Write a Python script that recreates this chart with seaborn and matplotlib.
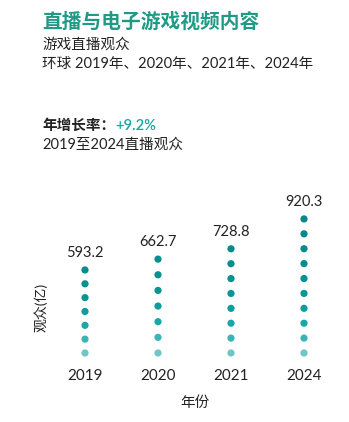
import numpy as np
import pandas as pd
import matplotlib
matplotlib.use("Agg")
import matplotlib.pyplot as plt
import seaborn as sns

# ---- data ----
years = ["2019", "2020", "2021", "2024"]
viewers = [593.2, 662.7, 728.8, 920.3]   # 亿
dot_counts = [7, 7, 8, 10]

title = "直播与电子游戏视频内容"
subtitle1 = "游戏直播观众"
subtitle2 = "环球 2019年、2020年、2021年、2024年"
growth_label = "年增长率："
growth_value = "+9.2%"
growth_caption = "2019至2024直播观众"
x_label = "年份"
y_label = "观众(亿)"

sns.set_theme(style="white")
plt.rcParams["font.family"] = ["Lato", "Noto Sans CJK SC", "DejaVu Sans"]

# build long table of dots
base = 61.0
rows = []
for yr, v, n in zip(years, viewers, dot_counts):
    ys = np.linspace(base, v, n)
    for i, yv in enumerate(ys):
        rows.append({"year": yr, "y": yv, "row": i})
df = pd.DataFrame(rows)

row_colors = ["#6FC6C6", "#3DB4B4", "#1AA7A7", "#0C9E9E", "#069696",
              "#039191", "#018E8E", "#008B8C", "#00898A", "#008789"]
palette = {i: row_colors[i] for i in range(max(dot_counts))}

W, H = 349, 422
fig = plt.figure(figsize=(W / 100, H / 100), dpi=100)
fig.patch.set_facecolor("white")

ax_left, ax_right = 48.5, 340.5
ax_bottom, ax_top = 362.5, 190.0
ax = fig.add_axes([ax_left / W, 1 - ax_bottom / H,
                   (ax_right - ax_left) / W, (ax_bottom - ax_top) / H])

sns.scatterplot(data=df, x="year", y="y", hue="row", palette=palette,
                s=27, linewidth=0, legend=False, ax=ax)

ax.set_xlim(-0.5, 3.5)
ax.set_ylim(0, (ax_bottom - ax_top) / 0.156)
for i, v in enumerate(viewers):
    ax.annotate(f"{v:.1f}", (i, v), xytext=(0, 12.3), textcoords="offset points",
                ha="center", va="center", fontsize=10.5, color="#222222")

for s in ax.spines.values():
    s.set_visible(False)
ax.set_yticks([])
ax.tick_params(axis="x", length=0, pad=5, labelsize=11, labelcolor="#222222")
ax.set_xlabel(x_label, fontsize=10.5, color="#222222", labelpad=9)
ax.set_ylabel("")
ax.set_facecolor("white")

fig.text(41 / W, 1 - 307 / H, y_label, rotation=90, ha="center", va="center",
         fontsize=10, color="#222222")

fig.text(42 / W, 1 - 22 / H, title, ha="left", va="center", fontsize=14.2,
         fontweight="bold", color="#1E9A86")
fig.text(42 / W, 1 - 45 / H, subtitle1, ha="left", va="center", fontsize=10.5,
         color="#222222")
fig.text(42 / W, 1 - 64 / H, subtitle2, ha="left", va="center", fontsize=10.5,
         color="#222222")
t1 = fig.text(42 / W, 1 - 126 / H, growth_label, ha="left", va="center",
              fontsize=10.5, fontweight="bold", color="#222222")
fig.canvas.draw()
bb = t1.get_window_extent(renderer=fig.canvas.get_renderer())
fig.text(bb.x1 / W, 1 - 126 / H, growth_value, ha="left", va="center",
         fontsize=10.5, fontweight="semibold", color="#16A9A2")
fig.text(42 / W, 1 - 145 / H, growth_caption, ha="left", va="center",
         fontsize=10.5, color="#222222")

fig.savefig("out.png", dpi=100, facecolor="white")
